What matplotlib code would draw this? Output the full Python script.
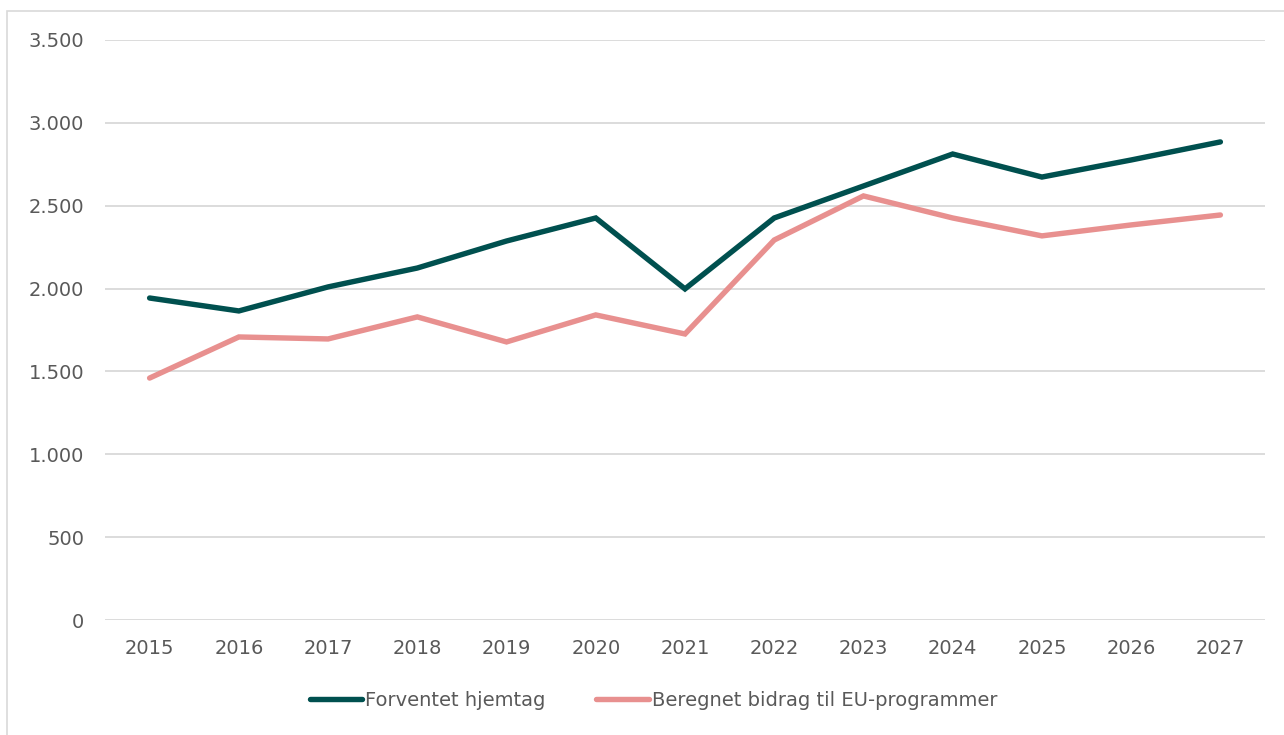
import matplotlib.pyplot as plt
from matplotlib.patches import Rectangle
from matplotlib.ticker import FuncFormatter

plt.rcParams['font.family'] = ['DejaVu Sans']

years = ['2015', '2016', '2017', '2018', '2019', '2020', '2021',
         '2022', '2023', '2024', '2025', '2026', '2027']
hjemtag = [1943, 1865, 2010, 2124, 2287, 2426, 1998, 2426, 2619, 2812, 2673, 2776, 2885]
bidrag = [1460, 1708, 1696, 1829, 1678, 1841, 1726, 2293, 2559, 2426, 2318, 2384, 2444]

green = '#00504F'
pink = '#E8908F'
grey_txt = '#595959'

fig = plt.figure(figsize=(12.84, 7.35), dpi=100)
# thin frame round the chart like the Excel chart area
fig.patches.append(Rectangle((7/1284, -0.01), 1.0, 1 - 11/735 + 0.01, transform=fig.transFigure,
                             fill=False, edgecolor='#D9D9D9', linewidth=1.2))

ax = fig.add_axes([105/1284, 1 - 620/735, 1160/1284, 580/735])
x = range(len(years))
ax.plot(x, hjemtag, color=green, lw=3.9, solid_capstyle='round', solid_joinstyle='miter',
        label='Forventet hjemtag')
ax.plot(x, bidrag, color=pink, lw=3.9, solid_capstyle='round', solid_joinstyle='miter',
        label='Beregnet bidrag til EU-programmer')

ax.set_xlim(-0.5, len(years) - 0.5)
ax.set_ylim(0, 3500)
ax.set_yticks(range(0, 3501, 500))
ax.yaxis.set_major_formatter(FuncFormatter(lambda v, p: f'{int(v):,}'.replace(',', '.')))
ax.set_xticks(list(x))
ax.set_xticklabels(years)
ax.grid(axis='y', color='#D9D9D9', lw=1.3)
ax.set_axisbelow(True)
for s in ax.spines.values():
    s.set_visible(False)
ax.tick_params(length=0, labelsize=14, colors=grey_txt)
ax.tick_params(axis='x', pad=14)
ax.tick_params(axis='y', pad=15)

leg = fig.legend(loc='center', bbox_to_anchor=(0.509, 1 - 700/735), ncol=2, frameon=False,
                 fontsize=14, handlelength=2.7, handletextpad=0.15, columnspacing=2.6)
for t in leg.get_texts():
    t.set_color(grey_txt)

fig.savefig('out.png', dpi=100)
